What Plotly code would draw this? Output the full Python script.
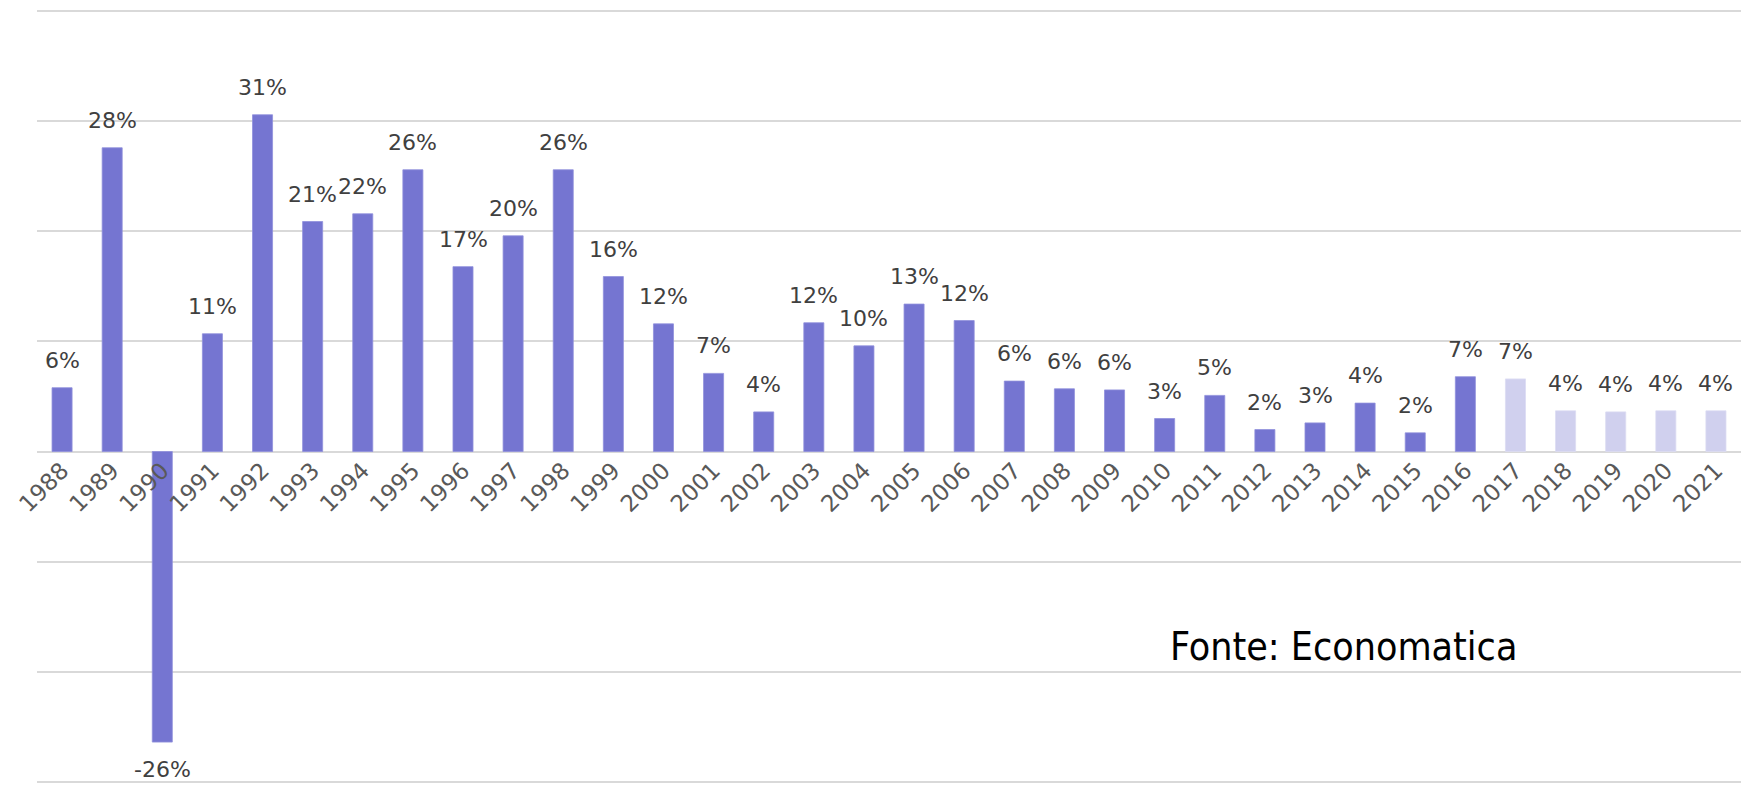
import plotly.graph_objects as go

years = [str(y) for y in range(1988, 2022)]
values = [5.8, 27.6, -26.4, 10.7, 30.6, 20.9, 21.6, 25.6, 16.8, 19.6, 25.6,
          15.9, 11.6, 7.1, 3.6, 11.7, 9.6, 13.4, 11.9, 6.4, 5.7, 5.6,
          3.0, 5.1, 2.0, 2.6, 4.4, 1.7, 6.8, 6.6, 3.7, 3.6, 3.7, 3.7]
projected_years = ["2017", "2018", "2019", "2020", "2021"]
labels = [f"{v:.0f}%" for v in values]
source_text = "Fonte: Economatica"

W, H = 1741, 785
ML, MR, MT, MB = 37, 0, 8, 0
YMIN, YMAX = -30.3, 40.3

idx = list(range(len(years)))
colors = ["#D0D0EE" if y in projected_years else "#7575D1" for y in years]
lines = ["#DCDCF3" if y in projected_years else "#9090DC" for y in years]

fig = go.Figure()
fig.add_trace(go.Bar(
    x=idx, y=values,
    marker=dict(color=colors, line=dict(color=lines, width=0.8)),
    width=0.4,
    hoverinfo="skip",
))

label_font = dict(family="DejaVu Sans", size=22, color="#404040")
annotations = []
for i, v, t in zip(idx, values, labels):
    if v >= 0:
        annotations.append(dict(x=i, y=v, xref="x", yref="y", text=t,
                                showarrow=False, xanchor="center", yanchor="bottom", yshift=14,
                                font=label_font, borderpad=0))
    else:
        annotations.append(dict(x=i, y=v, xref="x", yref="y", text=t,
                                showarrow=False, xanchor="center", yanchor="top", yshift=-14,
                                font=label_font, borderpad=0))

plot_w = W - ML - MR
plot_h = H - MT - MB
annotations.append(dict(
    x=(1168 - ML) / plot_w, y=(H - MB - 646) / plot_h, xref="paper", yref="paper",
    text=source_text, showarrow=False, xanchor="left", yanchor="middle",
    font=dict(family="DejaVu Sans Condensed, DejaVu Sans, sans-serif", size=39, color="#000000"),
))

fig.update_layout(
    width=W, height=H, autosize=False,
    margin=dict(l=ML, r=MR, t=MT, b=MB, pad=0),
    paper_bgcolor="white", plot_bgcolor="white",
    showlegend=False,
    annotations=annotations,
    xaxis=dict(
        range=[-0.5, len(years) - 0.5],
        tickmode="array", tickvals=idx, ticktext=years,
        anchor="free", position=(0 - YMIN) / (YMAX - YMIN),
        showline=False, showgrid=False, zeroline=False, ticks="",
        tickangle=-45,
        tickfont=dict(family="DejaVu Sans", size=23, color="#595959"),
        ticklabelstandoff=0,
    ),
    yaxis=dict(
        range=[YMIN, YMAX], dtick=10, tick0=0,
        showticklabels=False, ticks="",
        showgrid=True, gridcolor="#D9D9D9", gridwidth=2,
        zeroline=True, zerolinecolor="#D9D9D9", zerolinewidth=2,
        showline=False,
    ),
)

fig.write_html("out.html")
